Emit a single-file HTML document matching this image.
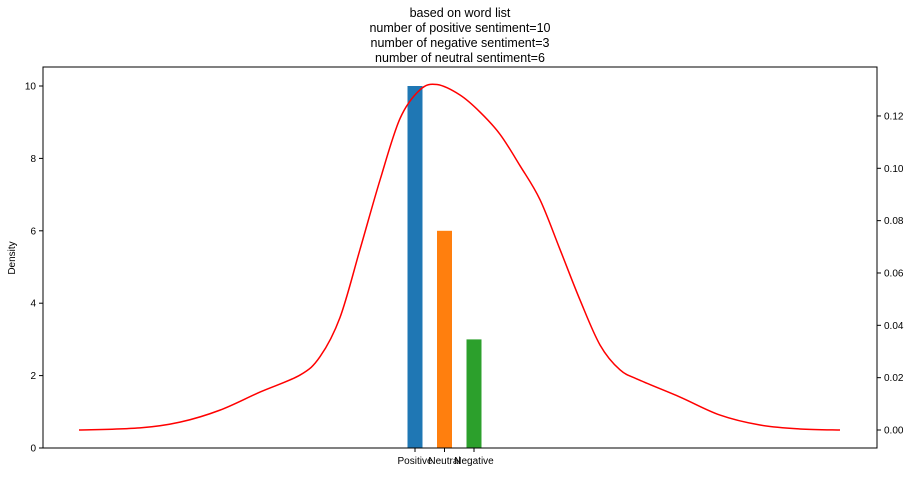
<!DOCTYPE html>
<html><head><meta charset="utf-8"><style>
body{margin:0;background:#fff;font-family:"Liberation Sans",sans-serif;}
svg text{font-family:"Liberation Sans",sans-serif;fill:#000;}
</style></head><body>
<svg id="chart" width="914" height="472"></svg>
<script>
const categories=["Positive","Neutral","Negative"];
const counts=[10,6,3];
const colors=["#1f77b4","#ff7f0e","#2ca02c"];
const leftTicks=[0,2,4,6,8,10];
const rightTicks=[0,0.02,0.04,0.06,0.08,0.10,0.12];
const kdeX=[-3.58,-2.97,-2.57,-2.17,-1.77,-1.37,-1.17,-0.97,-0.77,-0.57,-0.37,-0.17,0,0.23,0.43,0.63,0.83,1.03,1.23,1.43,1.63,1.83,2.03,2.43,2.83,3.23,3.63,4.03];
const kdeY=[0,0.0008,0.003,0.0076,0.0145,0.021,0.028,0.043,0.069,0.0955,0.119,0.130,0.132,0.128,0.1215,0.113,0.101,0.088,0.069,0.0497,0.0325,0.023,0.019,0.0126,0.0057,0.0019,0.0004,0];
const titleLines=["based on word list","number of positive sentiment=10","number of negative sentiment=3","number of neutral sentiment=6"];

const NS="http://www.w3.org/2000/svg";
const svg=document.getElementById('chart');
const L=43,R=877,T=67,B=448;
function mk(t,a,p){const e=document.createElementNS(NS,t);for(const k in a)e.setAttribute(k,a[k]);(p||svg).appendChild(e);return e;}
const yL=v=>448-v*36.2;
const yR=v=>430-v*2617;
const xK=v=>437+v*100;
const barX=i=>415+i*29.5;

titleLines.forEach((s,i)=>{const t=mk('text',{x:460,y:17+i*15,'text-anchor':'middle','font-size':12.5});t.textContent=s;

});

categories.forEach((c,i)=>{const r=mk('rect',{x:barX(i)-7.5,y:yL(counts[i]),width:15,height:B-yL(counts[i]),fill:colors[i]});


mk('line',{x1:barX(i),x2:barX(i),y1:B,y2:B+4,stroke:'#000'});
const t=mk('text',{x:barX(i),y:464,'text-anchor':'middle','font-size':10});t.textContent=c;

});

const pts=kdeX.map((x,i)=>[xK(x),yR(kdeY[i])]);
let d='M'+pts[0][0]+','+pts[0][1];
for(let i=0;i<pts.length-1;i++){
  const p0=pts[Math.max(0,i-1)],p1=pts[i],p2=pts[i+1],p3=pts[Math.min(pts.length-1,i+2)];
  const c1=[p1[0]+(p2[0]-p0[0])/6,p1[1]+(p2[1]-p0[1])/6];
  const c2=[p2[0]-(p3[0]-p1[0])/6,p2[1]-(p3[1]-p1[1])/6];
  d+=' C'+c1.join(',')+' '+c2.join(',')+' '+p2.join(',');
}
const p=mk('path',{d:d,fill:'none',stroke:'#ff0000','stroke-width':1.5,'stroke-linejoin':'round'});



const fr=mk('rect',{x:L,y:T,width:R-L,height:B-T,fill:'none',stroke:'#000','stroke-width':1});



leftTicks.forEach(v=>{mk('line',{x1:L-4,x2:L,y1:yL(v),y2:yL(v),stroke:'#000'});
const t=mk('text',{x:L-7,y:yL(v)+3.5,'text-anchor':'end','font-size':10});t.textContent=v;

});
rightTicks.forEach(v=>{mk('line',{x1:R,x2:R+4,y1:yR(v),y2:yR(v),stroke:'#000'});
const t=mk('text',{x:R+7,y:yR(v)+3.5,'font-size':10});t.textContent=v.toFixed(2);

});

const yt=mk('text',{x:15,y:258,'text-anchor':'middle','font-size':10,transform:'rotate(-90 15 258)'});yt.textContent='Density';


</script>
</body></html>
